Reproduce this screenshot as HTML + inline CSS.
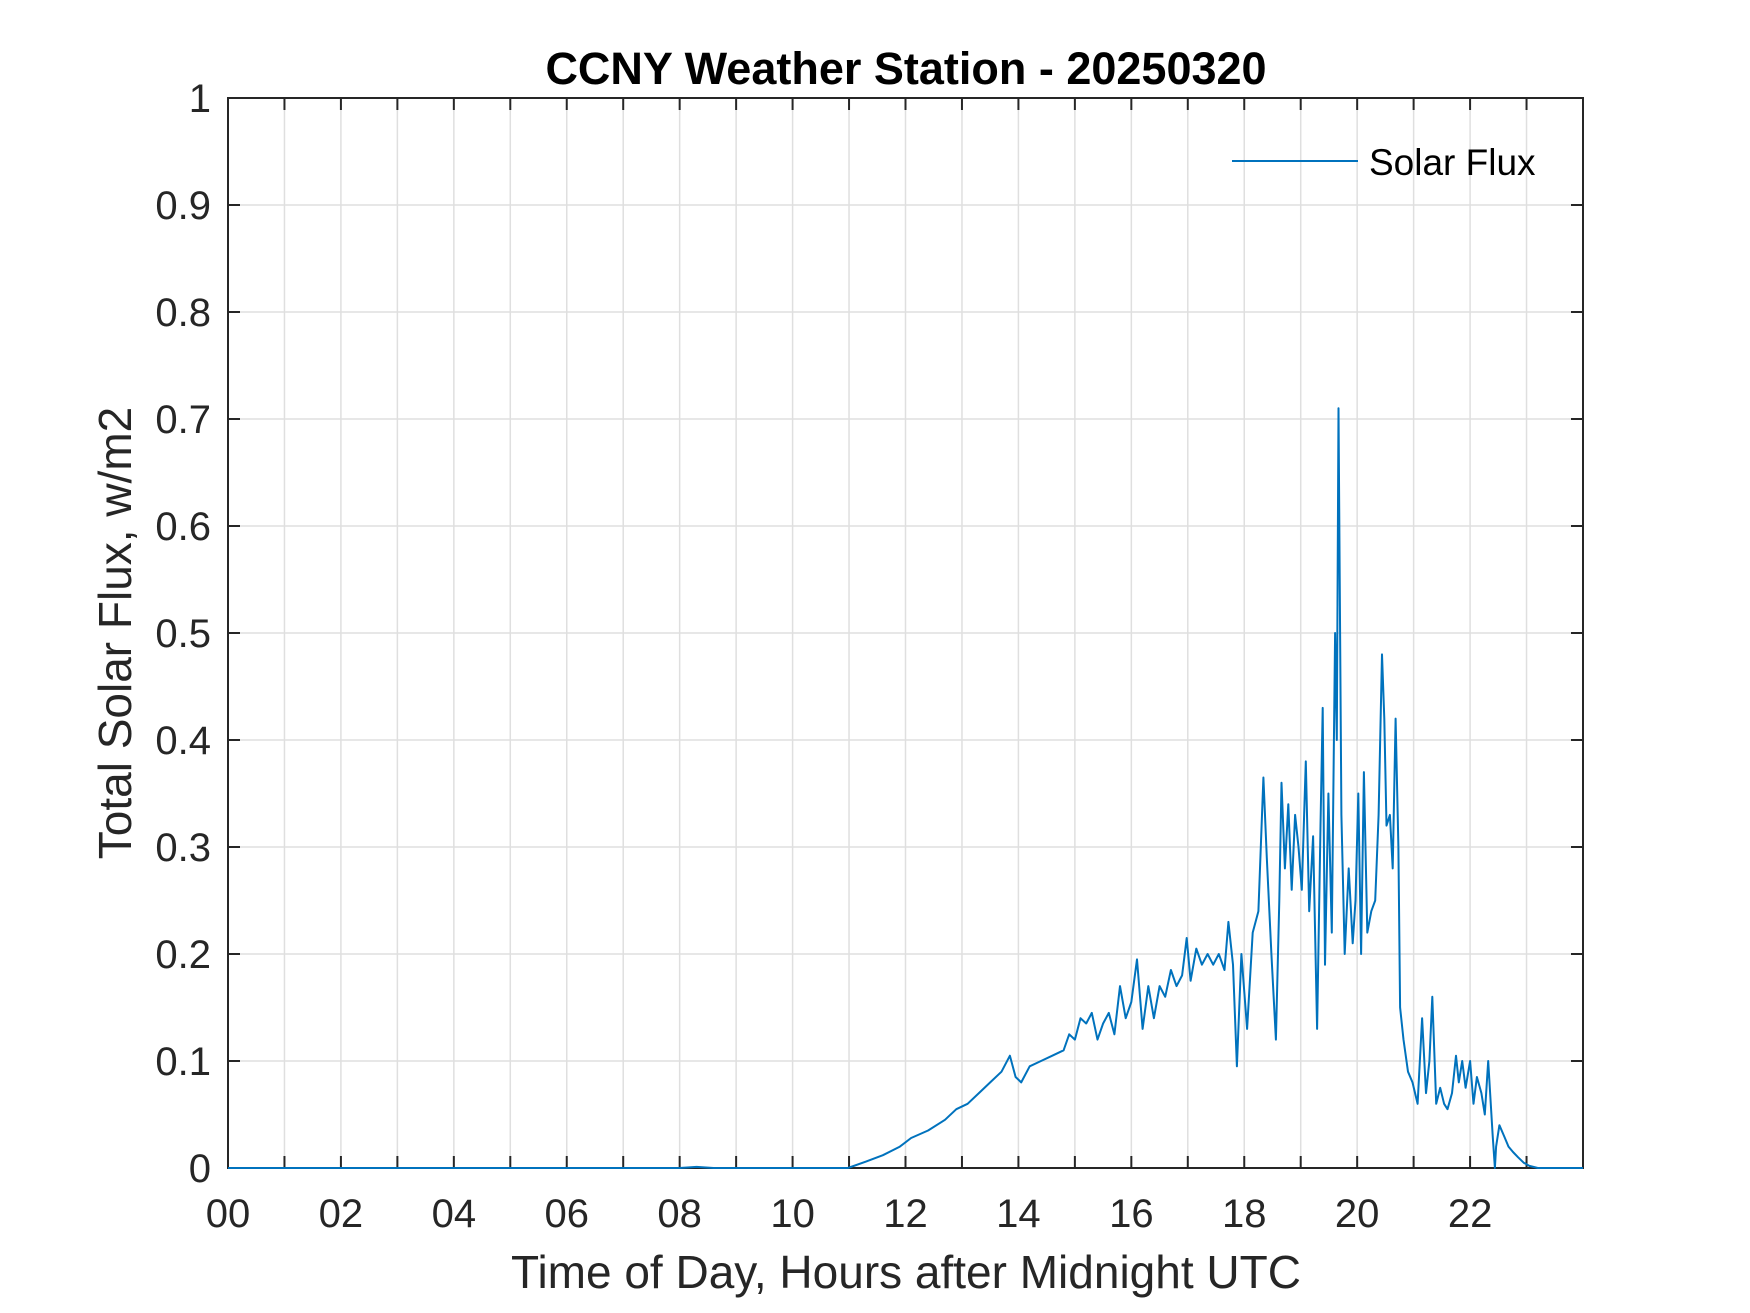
<!DOCTYPE html>
<html><head><meta charset="utf-8"><style>
html,body{margin:0;padding:0;background:#fff;}
svg{display:block;font-family:"Liberation Sans",Arial,sans-serif;}
</style></head><body>
<svg id="chart" width="1750" height="1313" viewBox="0 0 1750 1313" xmlns="http://www.w3.org/2000/svg">
<rect width="1750" height="1313" fill="#fff"/>
<g id="grid"></g>
<g id="axes"></g>
<g id="series"></g>
<text x="906" y="84" text-anchor="middle" font-size="45" font-weight="bold" fill="#000">CCNY Weather Station - 20250320</text>
<text x="906" y="1288" text-anchor="middle" font-size="46" fill="#262626">Time of Day, Hours after Midnight UTC</text>
<text transform="translate(131,633) rotate(-90)" text-anchor="middle" font-size="46" fill="#262626">Total Solar Flux, w/m2</text>
<g>
<line x1="1232" y1="161" x2="1358" y2="161" stroke="#0072BD" stroke-width="2"/>
<text x="1369" y="175" font-size="37" fill="#000">Solar Flux</text>
</g>
</svg>
<script>
const hours = [0,8.0,8.3,8.6,10.98,11.3,11.6,11.9,12.1,12.4,12.7,12.9,13.1,13.3,13.5,13.7,13.85,13.95,14.05,14.2,14.4,14.6,14.8,14.9,15.0,15.1,15.2,15.3,15.4,15.5,15.6,15.7,15.8,15.9,16.0,16.1,16.2,16.3,16.4,16.5,16.6,16.7,16.8,16.9,16.98,17.05,17.15,17.25,17.35,17.45,17.55,17.65,17.72,17.8,17.87,17.95,18.05,18.15,18.25,18.34,18.4,18.48,18.56,18.62,18.66,18.72,18.78,18.84,18.9,18.96,19.02,19.09,19.15,19.22,19.29,19.35,19.39,19.43,19.49,19.55,19.61,19.64,19.67,19.72,19.78,19.85,19.92,19.97,20.02,20.07,20.12,20.18,20.25,20.32,20.38,20.44,20.48,20.52,20.58,20.63,20.68,20.73,20.76,20.82,20.9,20.98,21.07,21.15,21.22,21.28,21.33,21.4,21.47,21.54,21.6,21.68,21.75,21.8,21.86,21.92,22.0,22.06,22.12,22.2,22.26,22.32,22.4,22.44,22.46,22.52,22.6,22.68,22.76,22.85,22.95,23.05,23.2,24];
const values = [0,0,0.001,0,0,0.006,0.012,0.02,0.028,0.035,0.045,0.055,0.06,0.07,0.08,0.09,0.105,0.085,0.08,0.095,0.1,0.105,0.11,0.125,0.12,0.14,0.135,0.145,0.12,0.135,0.145,0.125,0.17,0.14,0.155,0.195,0.13,0.17,0.14,0.17,0.16,0.185,0.17,0.18,0.215,0.175,0.205,0.19,0.2,0.19,0.2,0.185,0.23,0.19,0.095,0.2,0.13,0.22,0.24,0.365,0.29,0.2,0.12,0.25,0.36,0.28,0.34,0.26,0.33,0.3,0.26,0.38,0.24,0.31,0.13,0.32,0.43,0.19,0.35,0.22,0.5,0.4,0.71,0.33,0.2,0.28,0.21,0.25,0.35,0.2,0.37,0.22,0.24,0.25,0.33,0.48,0.42,0.32,0.33,0.28,0.42,0.3,0.15,0.12,0.09,0.08,0.06,0.14,0.07,0.1,0.16,0.06,0.075,0.06,0.055,0.07,0.105,0.08,0.1,0.075,0.1,0.06,0.085,0.07,0.05,0.1,0.03,0.0,0.02,0.04,0.03,0.02,0.015,0.01,0.005,0.002,0,0];
const xTickLabels = ["00","02","04","06","08","10","12","14","16","18","20","22"];
const xTickValues = [0,2,4,6,8,10,12,14,16,18,20,22];
const yTickLabels = ["0","0.1","0.2","0.3","0.4","0.5","0.6","0.7","0.8","0.9","1"];
const yTickValues = [0,0.1,0.2,0.3,0.4,0.5,0.6,0.7,0.8,0.9,1];

const L=228,R=1583,T=98,B=1168, XMAX=24, YMAX=1;
const NS="http://www.w3.org/2000/svg";
function xs(h){return L+(R-L)*h/XMAX;}
function ys(v){return B-(B-T)*v/YMAX;}
function mk(tag,attrs,parent){const e=document.createElementNS(NS,tag);for(const k in attrs)e.setAttribute(k,attrs[k]);parent.appendChild(e);return e;}
const grid=document.getElementById('grid'), axes=document.getElementById('axes'), series=document.getElementById('series');
for(let h=1;h<XMAX;h++){
  const g=mk('line',{x1:xs(h),x2:xs(h),y1:T,y2:B,stroke:'#dfdfdf','stroke-width':1.5},grid);
  
  
  const t1=mk('line',{x1:xs(h),x2:xs(h),y1:B,y2:B-12,stroke:'#262626','stroke-width':2},axes);
  
  
  const t2=mk('line',{x1:xs(h),x2:xs(h),y1:T,y2:T+12,stroke:'#262626','stroke-width':2},axes);
  
  
}
yTickValues.forEach((v,i)=>{
  if(v>0&&v<YMAX){
    const g=mk('line',{x1:L,x2:R,y1:ys(v),y2:ys(v),stroke:'#dfdfdf','stroke-width':1.5},grid);
    
    
    const t1=mk('line',{x1:L,x2:L+12,y1:ys(v),y2:ys(v),stroke:'#262626','stroke-width':2},axes);
    
    
    const t2=mk('line',{x1:R-12,x2:R,y1:ys(v),y2:ys(v),stroke:'#262626','stroke-width':2},axes);
    
    
  }
  const t=mk('text',{x:211,y:ys(v)+14,'text-anchor':'end','font-size':40,fill:'#262626'},axes);
  t.textContent=yTickLabels[i];
  
  
});
xTickValues.forEach((h,i)=>{
  const t=mk('text',{x:xs(h),y:1227,'text-anchor':'middle','font-size':40,fill:'#262626'},axes);
  t.textContent=xTickLabels[i];
  
  
});
const box=mk('rect',{x:L,y:T,width:R-L,height:B-T,fill:'none',stroke:'#262626','stroke-width':2},axes);


let d='';
hours.forEach((h,i)=>{d+=(i?'L':'M')+xs(h).toFixed(1)+' '+ys(values[i]).toFixed(1)+' ';});
const p=mk('path',{d:d,fill:'none',stroke:'#0072BD','stroke-width':2,'stroke-linejoin':'round'},series);


</script>
</body></html>
